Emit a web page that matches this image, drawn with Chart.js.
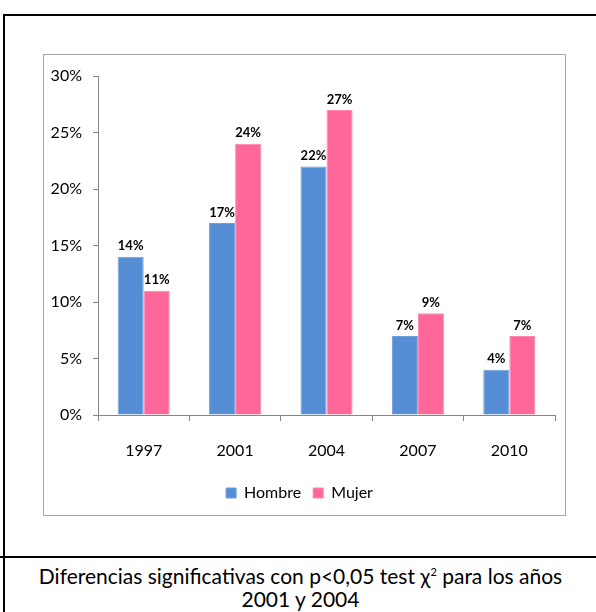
<!DOCTYPE html>
<html>
<head>
<meta charset="utf-8">
<script src="https://cdn.jsdelivr.net/npm/chart.js@4"></script>
<style>
  body { margin: 0; background: #fff; width: 596px; height: 612px; position: relative; overflow: hidden; font-family: Lato, sans-serif; }
  .linea { position: absolute; background: #000; }
  #caja { position: absolute; left: 43px; top: 54px; width: 521px; height: 460px; border: 1px solid #a6a6a6; }
  #nota { position: absolute; left: 5px; top: 564px; width: 591px; text-align: center; font-size: 21px; line-height: 23px; color: #000; }
  #nota sup { font-size: 11px; line-height: 0; }
</style>
</head>
<body>
<div class="linea" style="left:3px;top:14px;width:593px;height:2px"></div>
<div class="linea" style="left:3px;top:14px;width:2px;height:598px"></div>
<div class="linea" style="left:0;top:556px;width:596px;height:2px"></div>
<div id="caja"><canvas id="myChart" width="521" height="460"></canvas></div>
<div id="nota">Diferencias significativas con p&lt;0,05 test &chi;<sup>2</sup> para los años<br>2001 y 2004</div>
<script>
// Porcentajes por año y sexo
const anios = ['1997', '2001', '2004', '2007', '2010'];
const hombre = [14, 17, 22, 7, 4];
const mujer = [11, 24, 27, 9, 7];

// etiquetas encima de cada barra
const etiquetasBarras = {
  id: 'etiquetasBarras',
  afterDatasetsDraw(chart) {
    const ctx = chart.ctx;
    ctx.save();
    ctx.font = 'bold 13px Lato';
    ctx.fillStyle = '#000';
    ctx.textAlign = 'center';
    ctx.textBaseline = 'bottom';
    chart.data.datasets.forEach((ds, i) => {
      chart.getDatasetMeta(i).data.forEach((bar, j) => {
        ctx.fillText(ds.data[j] + '%', bar.x, bar.y - 4);
      });
    });
    ctx.restore();
  }
};

var ctx = document.getElementById('myChart').getContext('2d');

var myChart = new Chart(ctx, {
  type: 'bar',
  data: {
    labels: anios,
    datasets: [{
      label: 'Hombre',
      data: hombre,
      backgroundColor: '#558ed5',
      borderColor: '#6f9fdc',
      borderWidth: 1
    }, {
      label: 'Mujer',
      data: mujer,
      backgroundColor: '#ff6699',
      borderColor: '#ff85ad',
      borderWidth: 1
    }]
  },
  options: {
    responsive: false,
    animation: false,
    layout: { padding: { top: 21, right: 10, left: 0, bottom: 4 } },
    datasets: { bar: { categoryPercentage: 0.57, barPercentage: 1 } },
    plugins: {
      legend: {
        position: 'bottom',
        labels: { boxWidth: 10, boxHeight: 10, padding: 12, color: '#000', font: { family: 'Lato', size: 16 } }
      },
      tooltip: { enabled: false }
    },
    scales: {
      x: {
        afterFit: s => { s.height = 58; },
        grid: { drawOnChartArea: false, drawTicks: true, tickLength: 6, color: '#868686' },
        border: { color: '#868686' },
        ticks: { padding: 20, color: '#000', font: { family: 'Lato', size: 16 } }
      },
      y: {
        min: 0,
        max: 30,
        afterFit: s => { s.width = 54; },
        grid: { drawOnChartArea: false, drawTicks: true, tickLength: 5, color: '#868686' },
        border: { color: '#868686' },
        ticks: { stepSize: 5, padding: 11, color: '#000', font: { family: 'Lato', size: 16 }, callback: v => v + '%' }
      }
    }
  },
  plugins: [etiquetasBarras]
});
</script>
</body>
</html>
